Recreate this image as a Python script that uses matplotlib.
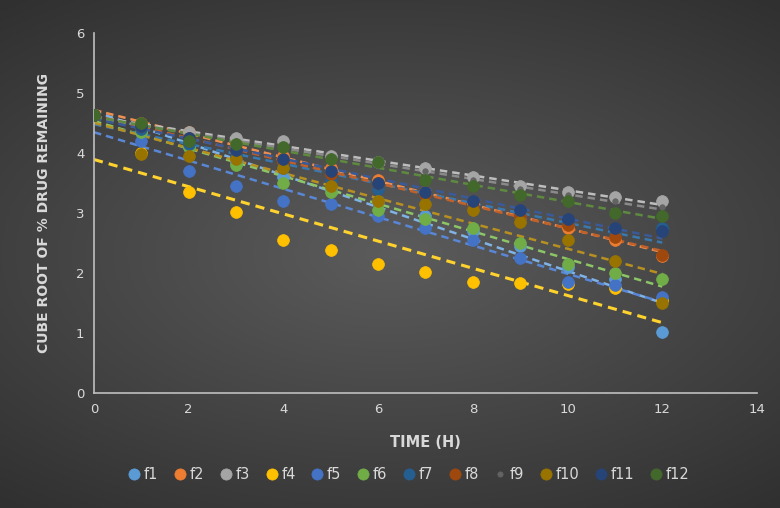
import numpy as np
import matplotlib
matplotlib.use("Agg")
import matplotlib.pyplot as plt

# time points (h)
time = np.arange(0, 13)

# cube root of % drug remaining
f1 = [4.64, 4.35, 4.10, 3.85, 3.60, 3.40, 3.20, 2.95, 2.70, 2.45, 2.10, 1.90, 1.02]
f2 = [4.64, 4.50, 4.35, 4.15, 3.95, 3.75, 3.55, 3.35, 3.15, 2.95, 2.75, 2.55, 2.28]
f3 = [4.64, 4.45, 4.35, 4.25, 4.20, 3.95, 3.85, 3.75, 3.60, 3.45, 3.35, 3.27, 3.20]
f4 = [4.64, 4.00, 3.35, 3.02, 2.55, 2.38, 2.15, 2.02, 1.85, 1.83, 1.82, 1.75, 1.55]
f5 = [4.64, 4.20, 3.70, 3.45, 3.20, 3.15, 2.95, 2.75, 2.55, 2.25, 1.85, 1.80, 1.60]
f6 = [4.64, 4.35, 4.10, 3.80, 3.50, 3.35, 3.05, 2.90, 2.75, 2.50, 2.15, 2.00, 1.90]
f7 = [4.64, 4.40, 4.15, 3.95, 3.75, 3.55, 3.40, 3.25, 3.10, 2.95, 2.85, 2.65, 2.75]
f8 = [4.64, 4.45, 4.25, 4.05, 3.85, 3.65, 3.50, 3.30, 3.10, 2.95, 2.80, 2.60, 2.30]
f9 = [4.64, 4.45, 4.30, 4.20, 4.10, 3.95, 3.80, 3.70, 3.55, 3.40, 3.30, 3.20, 3.10]
f10 = [4.64, 3.98, 3.95, 3.90, 3.75, 3.45, 3.20, 3.15, 3.05, 2.85, 2.55, 2.20, 1.50]
f11 = [4.64, 4.45, 4.25, 4.05, 3.90, 3.70, 3.50, 3.35, 3.20, 3.05, 2.90, 2.75, 2.70]
f12 = [4.64, 4.50, 4.20, 4.15, 4.10, 3.90, 3.85, 3.55, 3.45, 3.30, 3.20, 3.00, 2.95]

names = ['f1', 'f2', 'f3', 'f4', 'f5', 'f6', 'f7', 'f8', 'f9', 'f10', 'f11', 'f12']
series = [f1, f2, f3, f4, f5, f6, f7, f8, f9, f10, f11, f12]
colors = ['#5B9BD5', '#ED7D31', '#A5A5A5', '#FFC000', '#4472C4', '#70AD47',
          '#255E91', '#9E480E', '#636363', '#997300', '#264478', '#43682B']
trend_colors = ['#7FB2E5', '#F09050', '#BDBDBD', '#FFD22E', '#5A86D6', '#8CC466',
                '#3A78B0', '#C0602A', '#8A8A8A', '#B89020', '#3A5A9A', '#5E8A40']

fig = plt.figure(figsize=(7.8, 5.08), dpi=100)

# dark radial-ish gradient background
bg = fig.add_axes([0, 0, 1, 1])
yy, xx = np.mgrid[-1:1:300j, -1:1:460j]
r = np.sqrt((xx * 0.9) ** 2 + (yy * 1.1) ** 2)
shade = 0.36 - 0.17 * np.clip(r, 0, 1.4) / 1.4
bg.imshow(np.dstack([shade] * 3), extent=[0, 1, 0, 1], aspect='auto')
bg.axis('off')

ax = fig.add_axes([0.1205, 0.2264, 0.85, 0.7087])
ax.set_facecolor('none')

for name, y, c, tc in zip(names, series, colors, trend_colors):
    size = 4 if name == 'f9' else 8.5
    ax.plot(time, y, 'o', ms=size, color=c, mec=c, mew=0.5, label=name, zorder=3)
    k, b = np.polyfit(time, y, 1)
    ax.plot(time, k * time + b, color=tc, lw=2.2 if name == 'f4' else 1.8,
            ls=(0, (3, 2)), zorder=2)

ax.set_xlim(0, 14)
ax.set_ylim(0, 6)
ax.set_xticks(np.arange(0, 15, 2))
ax.set_yticks(np.arange(0, 7, 1))
for side in ['top', 'right']:
    ax.spines[side].set_visible(False)
for side in ['left', 'bottom']:
    ax.spines[side].set_color('#BFBFBF')
    ax.spines[side].set_linewidth(1.2)
ax.tick_params(colors='#D9D9D9', labelsize=9.5, length=0, pad=7)

ax.set_xlabel('TIME (H)', color='#D9D9D9', fontsize=10.5, fontweight='bold', labelpad=14)
ax.set_ylabel('CUBE ROOT OF % DRUG REMAINING', color='#D9D9D9', fontsize=10,
              fontweight='bold', labelpad=18)

leg = ax.legend(loc='upper center', bbox_to_anchor=(0.473, -0.17), ncol=12,
                frameon=False, fontsize=10.5, handletextpad=0.05,
                columnspacing=0.9, handlelength=1.2, markerscale=0.95)
for t in leg.get_texts():
    t.set_color('#D9D9D9')

fig.savefig('out.png', dpi=100)
